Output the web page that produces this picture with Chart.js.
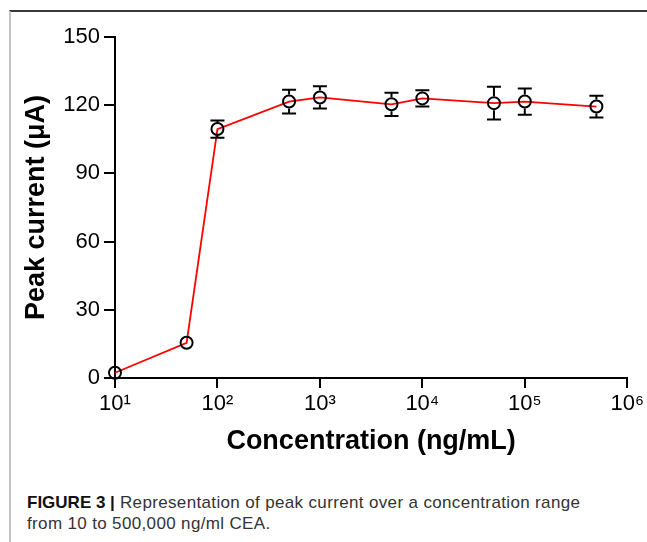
<!DOCTYPE html>
<html>
<head>
<meta charset="utf-8">
<script src="https://cdn.jsdelivr.net/npm/chart.js"></script>
<style>
  html, body { margin: 0; padding: 0; background: #fff; }
  #page { position: relative; width: 647px; height: 542px; overflow: hidden; }
  #frame { position: absolute; left: 9px; top: 10px; right: 0; bottom: 0;
           border-left: 2px solid #c4c4c4; border-top: 2px solid #3a3a3a; }
  #chart { position: absolute; left: 0; top: 0; }
  #caption { position: absolute; left: 27px; top: 492px; font: 17px "Liberation Sans", Arial, sans-serif;
             letter-spacing: 0.35px; line-height: 21px; color: #333; white-space: nowrap; }
  #caption b { color: #111; letter-spacing: 0; }
</style>
</head>
<body>
<div id="page">
  <div id="frame"></div>
  <canvas id="chart" width="647" height="462"></canvas>
  <div id="caption"><b>FIGURE 3 |</b> Representation of peak current over a concentration range<br>from 10 to 500,000 ng/ml CEA.</div>
</div>
<script>
// concentration in ng/mL, peak current in uA
const concentration = [10, 50, 100, 500, 1000, 5000, 10000, 50000, 100000, 500000];
const peakCurrent = [2.3, 15.5, 109.5, 121.6, 123.4, 120.4, 123, 120.9, 121.6, 119.4];
const errorBar = [1, 1, 3.8, 5.2, 4.9, 5.1, 3.6, 7.2, 5.8, 4.8];
const yTicks = [0, 30, 60, 90, 120, 150];
const xTicks = [10, 100, 1000, 10000, 100000, 1000000];
const xTickLabels = ["10¹", "10²", "10³", "10⁴", "10⁵", "10⁶"];

const fontFamily = '"Liberation Sans", Arial, sans-serif';
Chart.defaults.font.family = fontFamily;
Chart.defaults.color = "#000";

const POINT_R = 6;

// error bars, drawn from the circle edge out to the caps
const errorBars = {
  id: "errorBars",
  afterDatasetsDraw(chart) {
    const ctx = chart.ctx;
    const xs = chart.scales.x, ys = chart.scales.y;
    ctx.save();
    ctx.strokeStyle = "#000";
    ctx.lineWidth = 2;
    concentration.forEach((c, i) => {
      const px = xs.getPixelForValue(c);
      const py = ys.getPixelForValue(peakCurrent[i]);
      const top = ys.getPixelForValue(peakCurrent[i] + errorBar[i]);
      const bot = ys.getPixelForValue(peakCurrent[i] - errorBar[i]);
      const edge = POINT_R + 1;
      ctx.beginPath();
      if (top < py - edge) {
        ctx.moveTo(px, py - edge); ctx.lineTo(px, top);
        ctx.moveTo(px - 7, top); ctx.lineTo(px + 7, top);
      }
      if (bot > py + edge) {
        ctx.moveTo(px, py + edge); ctx.lineTo(px, bot);
        ctx.moveTo(px - 7, bot); ctx.lineTo(px + 7, bot);
      }
      ctx.stroke();
    });
    ctx.restore();
  }
};

new Chart("chart", {
  type: "line",
  data: {
    datasets: [{
      data: concentration.map((c, i) => ({ x: c, y: peakCurrent[i] })),
      borderColor: "#ff0000",
      borderWidth: 1.8,
      tension: 0,
      clip: false,
      pointRadius: POINT_R,
      pointHoverRadius: POINT_R,
      pointBorderWidth: 2,
      pointBorderColor: "#000",
      pointBackgroundColor: "rgba(0,0,0,0)"
    }]
  },
  options: {
    responsive: false,
    animation: false,
    devicePixelRatio: 1,
    layout: { padding: { left: 16, top: 37, right: 19, bottom: 0 } },
    plugins: { legend: { display: false }, tooltip: { enabled: false } },
    scales: {
      x: {
        type: "logarithmic",
        min: 10,
        max: 1000000,
        afterBuildTicks: (scale) => { scale.ticks = xTicks.map(v => ({ value: v })); },
        afterFit: (scale) => { scale.height = 84; },
        ticks: {
          font: { size: 22 },
          padding: 3,
          maxRotation: 0,
          callback: (value) => xTickLabels[xTicks.indexOf(value)]
        },
        grid: { drawOnChartArea: false, drawTicks: true, tickLength: 10, color: "#000", lineWidth: 2 },
        border: { display: true, color: "#000", width: 2 },
        title: { display: true, text: "Concentration (ng/mL)", font: { size: 27, weight: "bold" }, padding: { top: 4, bottom: 4 } }
      },
      y: {
        type: "linear",
        min: 0,
        max: 150,
        afterBuildTicks: (scale) => { scale.ticks = yTicks.map(v => ({ value: v })); },
        afterFit: (scale) => { scale.width = 99; },
        ticks: { font: { size: 22 }, padding: 4 },
        grid: { drawOnChartArea: false, drawTicks: true, tickLength: 11, color: "#000", lineWidth: 2 },
        border: { display: true, color: "#000", width: 2 },
        title: { display: true, text: "Peak current (μA)", font: { size: 27, weight: "bold" }, padding: { top: 4, bottom: 4 } }
      }
    }
  },
  plugins: [errorBars]
});
</script>
</body>
</html>
